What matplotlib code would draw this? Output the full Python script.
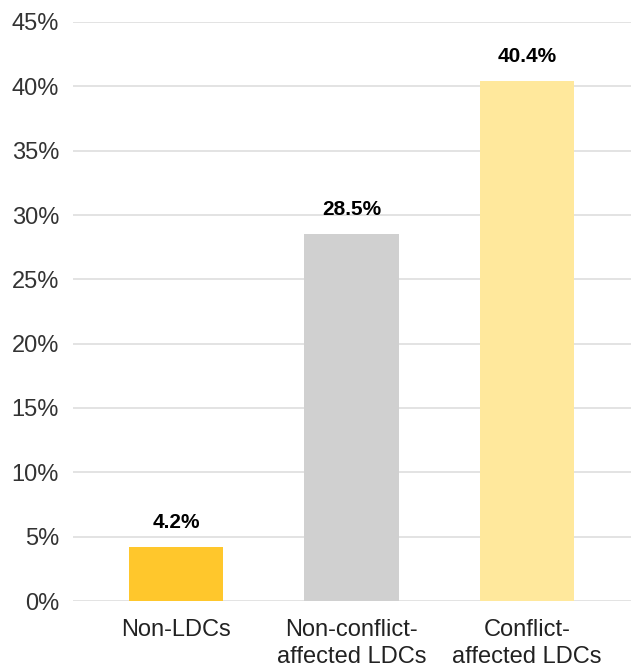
import matplotlib
matplotlib.use("Agg")
import matplotlib.pyplot as plt
from matplotlib.ticker import FuncFormatter

# ── Data ───────────────────────────────────────────────────────────────────────
categories = ["Non-LDCs", "Non-conflict-\naffected LDCs", "Conflict-\naffected LDCs"]
values     = [4.2, 28.5, 40.4]
bar_colors = ["#FFC72C", "#D0D0D0", "#FFE89C"]
y_ticks    = [0, 5, 10, 15, 20, 25, 30, 35, 40, 45]

plt.rcParams["font.family"] = ["Liberation Sans", "DejaVu Sans"]

W, H = 631, 667
fig = plt.figure(figsize=(W / 100, H / 100), dpi=100)
ax = fig.add_axes([73 / W, 66 / H, (W - 73) / W, (601 - 22) / H])

x = list(range(len(categories)))
bars = ax.bar(x, values, width=0.536, color=bar_colors, zorder=3)

for b, v in zip(bars, values):
    ax.annotate(f"{v:.1f}%", (b.get_x() + b.get_width() / 2, v),
                xytext=(0, 11), textcoords="offset points",
                ha="center", va="bottom", fontsize=15, fontweight="bold",
                color="black")

ax.set_xlim(-0.587, 2.593)
ax.set_ylim(0, 45)
ax.set_yticks(y_ticks)
ax.yaxis.set_major_formatter(FuncFormatter(lambda v, _: f"{v:.0f}%"))
ax.set_xticks(x)
ax.set_xticklabels(categories, fontsize=17, color="#222222", linespacing=1.3)
ax.tick_params(axis="y", labelsize=17, labelcolor="#333333", length=0, pad=10)
ax.tick_params(axis="x", length=0, pad=13)

ax.grid(axis="y", color="#E0E0E0", linewidth=1.3, zorder=0)
for s in ax.spines.values():
    s.set_visible(False)

fig.savefig("out.png", dpi=100)
